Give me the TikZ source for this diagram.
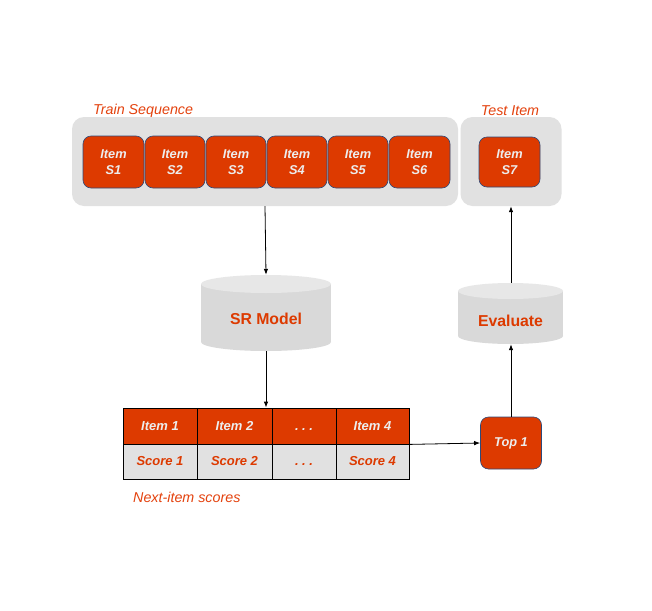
\documentclass[tikz,border=0pt]{standalone}
\usepackage{fontspec}
\setmainfont{Liberation Sans}
\usetikzlibrary{arrows.meta}
\definecolor{orng}{HTML}{DD3A00}
\definecolor{lbl}{HTML}{E4420E}
\definecolor{edgeblue}{HTML}{2E4A7A}
\definecolor{pale}{HTML}{EDEDED}
\definecolor{cont}{HTML}{E1E1E1}
\definecolor{cylbody}{HTML}{D9D9D9}
\definecolor{cyltop}{HTML}{E7E7E7}
\begin{document}
\begin{tikzpicture}[x=1pt,y=-1pt,
  itembox/.style={draw=edgeblue, line width=0.6pt, fill=orng, rounded corners=8pt, text=pale,
    font=\fontsize{12.8}{16}\selectfont\bfseries\itshape, align=center, inner sep=0pt,
    minimum width=61pt, minimum height=52pt},
  container/.style={fill=cont, rounded corners=12pt, inner sep=0pt},
  caption/.style={text=lbl, font=\fontsize{14.3}{16}\selectfont\itshape, inner sep=0pt},
  cylname/.style={text=orng, font=\fontsize{15.8}{18}\selectfont\bfseries, inner sep=0pt},
  headcell/.style={draw=black, line width=0.8pt, fill=orng, text=pale,
    font=\fontsize{13}{15}\selectfont\bfseries\itshape, inner sep=0pt, minimum height=36pt},
  scorecell/.style={draw=black, line width=0.8pt, fill=cont, text=orng,
    font=\fontsize{13}{15}\selectfont\bfseries\itshape, inner sep=0pt, minimum height=35pt},
  arr/.style={draw=black, line width=0.8pt, -{Latex[length=6pt,width=4.5pt]}}]
\useasboundingbox (0,0) rectangle (652,610);
\fill[white] (0,0) rectangle (652,610);

% containers
\node[container, minimum width=386pt, minimum height=89pt] (train) at (265,161.5) {};
\node[container, minimum width=101pt, minimum height=89pt] (test) at (511,161.5) {};
\node[caption, anchor=west] (trainlbl) at (93,111) {Train Sequence};
\node[caption] (testlbl) at (510,111) {Test Item};

% items
\node[itembox] (s1) at (113.5,162) {Item\\S1};
\node[itembox, minimum width=60pt] (s2) at (175,162) {Item\\S2};
\node[itembox, minimum width=60pt] (s3) at (236,162) {Item\\S3};
\node[itembox, minimum width=60pt] (s4) at (297,162) {Item\\S4};
\node[itembox, minimum width=60pt] (s5) at (358,162) {Item\\S5};
\node[itembox] (s6) at (419.5,162) {Item\\S6};
\node[itembox, minimum height=50pt] (s7) at (509.5,162) {Item\\S7};

% SR model cylinder
\fill[cylbody] (201,284) rectangle (331,342);
\fill[cylbody] (266,342) ellipse [x radius=65, y radius=9];
\fill[cyltop] (266,284) ellipse [x radius=65, y radius=9];
\node[cylname, minimum width=130pt, minimum height=76pt] (sr) at (266,313) {};
\node[cylname] (srtext) at (266,319) {SR Model};

% Evaluate cylinder
\fill[cylbody] (458,291) rectangle (563,336);
\fill[cylbody] (510.5,336) ellipse [x radius=52.5, y radius=8];
\fill[cyltop] (510.5,291) ellipse [x radius=52.5, y radius=8];
\node[cylname, minimum width=105pt, minimum height=61pt] (eval) at (511,313.5) {};
\node[cylname] (evaltext) at (510.5,321) {Evaluate};

% table
\node[headcell, minimum width=74pt] (c11) at (160,426) {Item 1};
\node[headcell, minimum width=75pt] (c12) at (234.5,426) {Item 2};
\node[headcell, minimum width=64pt] (c13) at (304,426) {\vphantom{I}.\hspace{3.5pt}.\hspace{3.5pt}.};
\node[headcell, minimum width=73pt] (c14) at (372.5,426) {Item 4};
\node[scorecell, minimum width=74pt] (c21) at (160,461.5) {Score 1};
\node[scorecell, minimum width=75pt] (c22) at (234.5,461.5) {Score 2};
\node[scorecell, minimum width=64pt] (c23) at (304,461.5) {\vphantom{S}.\hspace{3.5pt}.\hspace{3.5pt}.};
\node[scorecell, minimum width=73pt] (c24) at (372.5,461.5) {Score 4};
\node[caption, anchor=west] (nextlbl) at (133,497) {Next-item scores};

% top 1
\node[itembox] (top) at (511,443) {Top 1};

% connectors
\draw[arr] (train.south) -- (sr.north);
\draw[arr] (sr.south) -- (sr.south |- c12.north);
\draw[arr] (c14.south east) -- (top.west);
\draw[arr] (top.north) -- (eval.south);
\draw[arr] (eval.north) -- (test.south);
\end{tikzpicture}
\end{document}
